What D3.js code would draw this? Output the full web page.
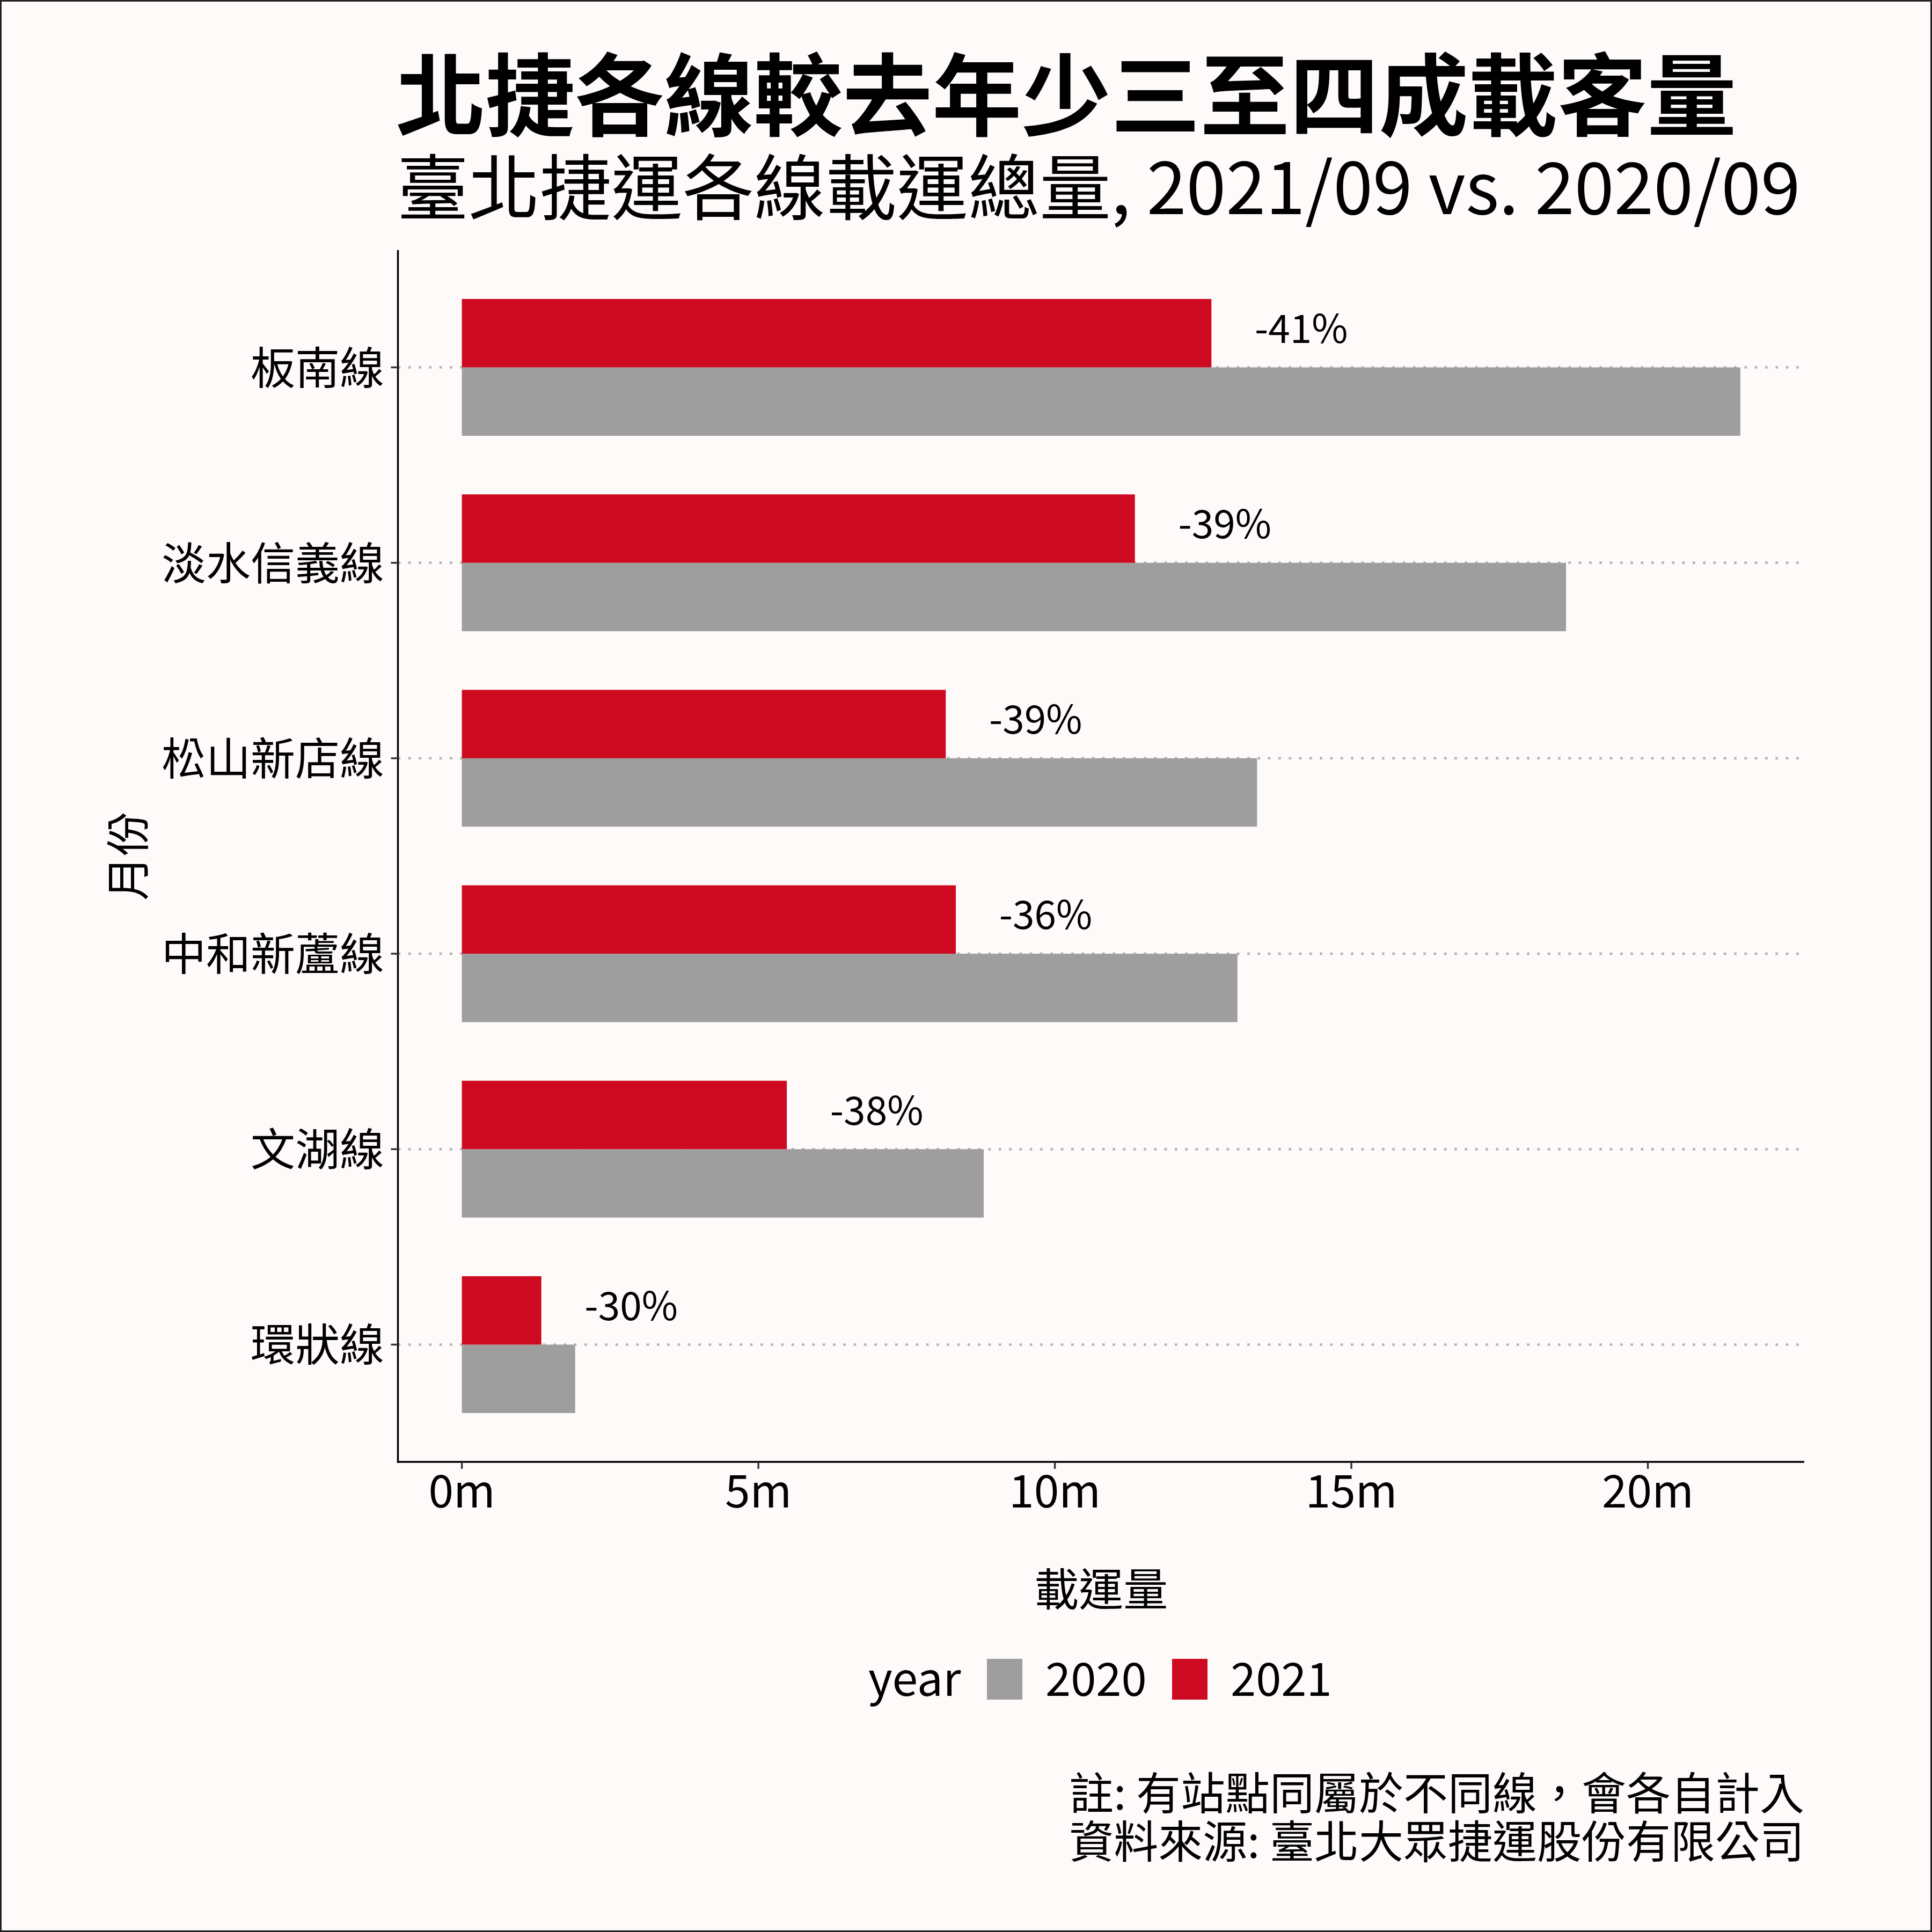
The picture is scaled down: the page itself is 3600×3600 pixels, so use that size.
<!DOCTYPE html>
<html>
<head>
<meta charset="utf-8">
<script src="https://cdn.jsdelivr.net/npm/d3@7"></script>
<style>
  body { margin: 0; background: #fffafa; }
  text { font-family: "Noto Sans CJK TC", "Noto Sans", sans-serif; fill: #000; }
</style>
</head>
<body>
<script>
// data, millions of rides per line
var lines   = ["板南線", "淡水信義線", "松山新店線", "中和新蘆線", "文湖線", "環狀線"];
var years   = ["2020", "2021"];
var v2020   = [21.56, 18.62, 13.41, 13.08, 8.80, 1.91];
var v2021   = [12.64, 11.35, 8.16, 8.33, 5.48, 1.34];
var changes = ["-41%", "-39%", "-39%", "-36%", "-38%", "-30%"];
var xTicks  = [0, 5, 10, 15, 20];

var width = 3600, height = 3600;
var panel = { left: 741.5, right: 3362, top: 466, bottom: 2724 };
var colors = { "2020": "#9e9e9e", "2021": "#cd0a20" };

var svg = d3.select("body").append("svg")
    .attr("width", width)
    .attr("height", height);

// background + border
svg.append("rect")
    .attr("x", 1.5).attr("y", 1.5)
    .attr("width", width - 3).attr("height", height - 3)
    .attr("fill", "#fffafa")
    .attr("stroke", "#222")
    .attr("stroke-width", 3);

var xMax = d3.max(v2020);
var xScale = d3.scaleLinear()
    .domain([-xMax * 0.05, xMax * 1.05])
    .range([panel.left, panel.right]);

var yScale = d3.scalePoint()
    .domain(lines)
    .range([panel.top, panel.bottom])
    .padding(0.6);

var step = yScale.step();
var barH = step * 0.35;

// dotted grid
svg.append("g").selectAll("line")
    .data(lines)
    .enter()
    .append("line")
    .attr("x1", panel.left)
    .attr("x2", panel.right)
    .attr("y1", function(d) { return yScale(d); })
    .attr("y2", function(d) { return yScale(d); })
    .attr("stroke", "#b4b4b4")
    .attr("stroke-width", 4.7)
    .attr("stroke-dasharray", "4.7 14.6");

// bars
var bars = svg.append("g");
bars.selectAll(".bar2020")
    .data(lines)
    .enter()
    .append("rect")
    .attr("x", xScale(0))
    .attr("y", function(d) { return yScale(d); })
    .attr("width", function(d, i) { return xScale(v2020[i]) - xScale(0); })
    .attr("height", barH)
    .attr("fill", colors["2020"]);

bars.selectAll(".bar2021")
    .data(lines)
    .enter()
    .append("rect")
    .attr("x", xScale(0))
    .attr("y", function(d) { return yScale(d) - barH; })
    .attr("width", function(d, i) { return xScale(v2021[i]) - xScale(0); })
    .attr("height", barH)
    .attr("fill", colors["2021"]);

// change labels
svg.append("g").selectAll("text")
    .data(lines)
    .enter()
    .append("text")
    .attr("x", function(d, i) { return xScale(v2021[i] + 0.73); })
    .attr("y", function(d) { return yScale(d) - barH / 2 + 18; })
    .attr("font-size", "73px")
    .text(function(d, i) { return changes[i]; });

// axes lines
svg.append("line")
    .attr("x1", panel.left).attr("x2", panel.left)
    .attr("y1", panel.top).attr("y2", panel.bottom + 1.7)
    .attr("stroke", "#000").attr("stroke-width", 3.4);
svg.append("line")
    .attr("x1", panel.left - 1.7).attr("x2", panel.right)
    .attr("y1", panel.bottom).attr("y2", panel.bottom)
    .attr("stroke", "#000").attr("stroke-width", 3.4);

// x ticks
var xt = svg.append("g").selectAll("g")
    .data(xTicks)
    .enter()
    .append("g")
    .attr("transform", function(d) { return "translate(" + xScale(d) + ",0)"; });
xt.append("line")
    .attr("y1", panel.bottom + 1.7).attr("y2", panel.bottom + 13)
    .attr("stroke", "#333").attr("stroke-width", 3.4);
xt.append("text")
    .attr("y", 2809)
    .attr("text-anchor", "middle")
    .attr("font-size", "84px")
    .text(function(d) { return d + "m"; });

// y ticks
var yt = svg.append("g").selectAll("g")
    .data(lines)
    .enter()
    .append("g")
    .attr("transform", function(d) { return "translate(0," + yScale(d) + ")"; });
yt.append("line")
    .attr("x1", panel.left - 13).attr("x2", panel.left)
    .attr("stroke", "#333").attr("stroke-width", 3.4);
yt.append("text")
    .attr("x", 716)
    .attr("y", 31)
    .attr("text-anchor", "end")
    .attr("font-size", "83px")
    .text(function(d) { return d; });

// axis titles
svg.append("text")
    .attr("x", (panel.left + panel.right) / 2)
    .attr("y", 2992)
    .attr("text-anchor", "middle")
    .attr("font-size", "83px")
    .text("載運量");

svg.append("text")
    .attr("transform", "translate(269," + ((panel.top + panel.bottom) / 2) + ") rotate(-90)")
    .attr("text-anchor", "middle")
    .attr("font-size", "83px")
    .text("月份");

// title and subtitle
svg.append("text")
    .attr("x", 738)
    .attr("y", 240)
    .attr("font-size", "166.5px")
    .attr("font-weight", "bold")
    .text("北捷各線較去年少三至四成載客量");

svg.append("text")
    .attr("x", 740)
    .attr("y", 399)
    .attr("font-size", "133px")
    .text("臺北捷運各線載運總量, 2021/09 vs. 2020/09");

// legend
var legend = svg.append("g");
legend.append("text")
    .attr("x", 1618)
    .attr("y", 3160)
    .attr("font-size", "86px")
    .text("year");

var keyX = { "2020": 1839, "2021": 2184 };
var lg = legend.selectAll(".key")
    .data(years)
    .enter()
    .append("g");
lg.append("rect")
    .attr("x", function(d) { return keyX[d]; })
    .attr("y", 3091)
    .attr("width", 66)
    .attr("height", 76)
    .attr("fill", function(d) { return colors[d]; });
lg.append("text")
    .attr("x", function(d) { return keyX[d] + 109; })
    .attr("y", 3160)
    .attr("font-size", "85px")
    .text(function(d) { return d; });

// caption
svg.append("text")
    .attr("x", 3362)
    .attr("y", 3372)
    .attr("text-anchor", "end")
    .attr("font-size", "83px")
    .text("註: 有站點同屬於不同線，會各自計入");
svg.append("text")
    .attr("x", 3362)
    .attr("y", 3462)
    .attr("text-anchor", "end")
    .attr("font-size", "83px")
    .text("資料來源: 臺北大眾捷運股份有限公司");
</script>
</body>
</html>
